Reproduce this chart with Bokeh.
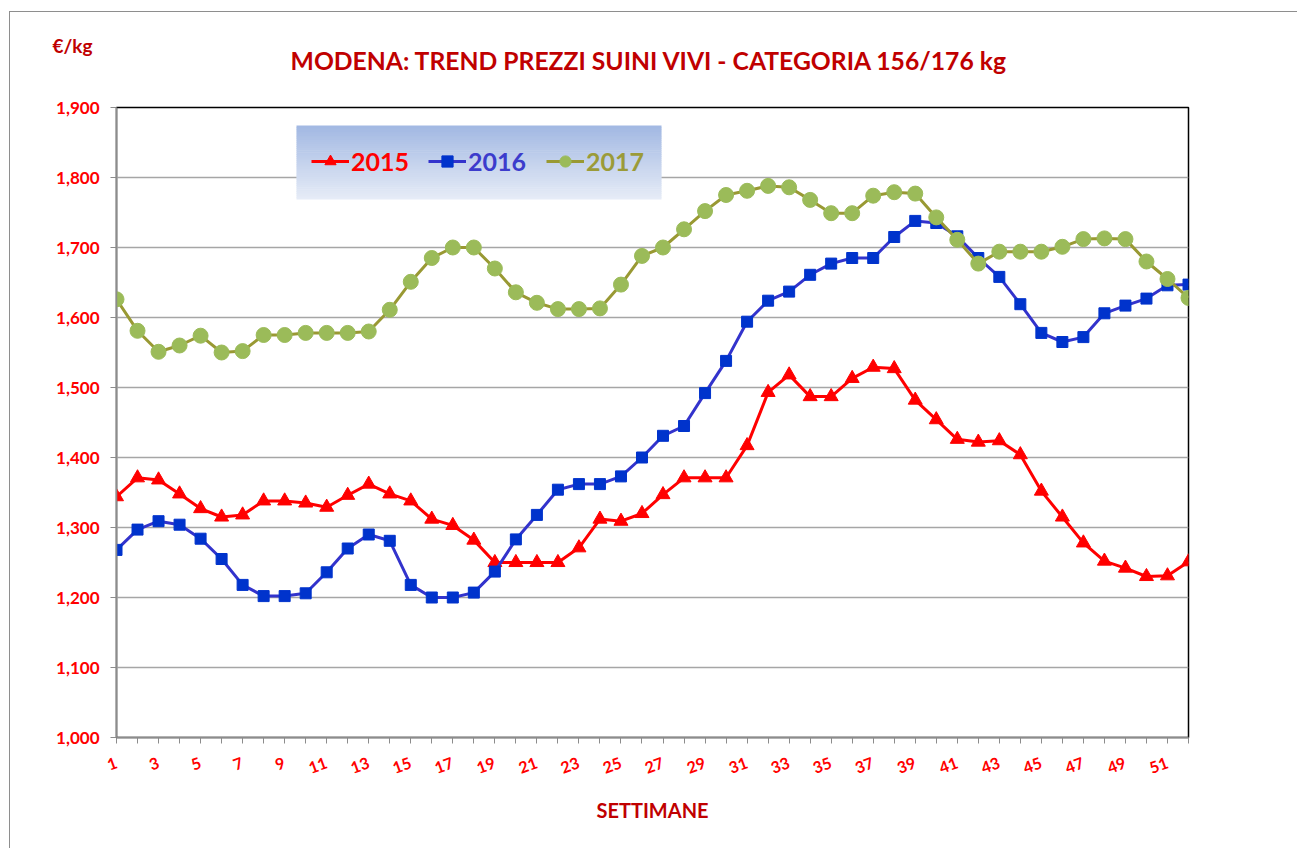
import numpy as np
from bokeh.plotting import figure
from bokeh.models import Range1d, FixedTicker, Legend, LegendItem, BoxAnnotation, Label
from bokeh.embed import file_html
from bokeh.resources import INLINE

# ---------------- data ----------------
weeks = list(range(1, 53))

prezzi_2015 = [1.344, 1.371, 1.368, 1.348, 1.327, 1.315, 1.318, 1.338, 1.338, 1.335,
               1.329, 1.346, 1.362, 1.348, 1.338, 1.312, 1.303, 1.282, 1.250, 1.250,
               1.250, 1.250, 1.271, 1.312, 1.309, 1.320, 1.347, 1.371, 1.371, 1.371,
               1.417, 1.493, 1.518, 1.487, 1.487, 1.513, 1.529, 1.527, 1.482, 1.454,
               1.426, 1.422, 1.424, 1.404, 1.352, 1.315, 1.278, 1.252, 1.242, 1.230,
               1.231, 1.251]

prezzi_2016 = [1.268, 1.297, 1.309, 1.304, 1.284, 1.255, 1.218, 1.202, 1.202, 1.206,
               1.236, 1.270, 1.290, 1.281, 1.218, 1.200, 1.200, 1.207, 1.237, 1.283,
               1.318, 1.354, 1.362, 1.362, 1.373, 1.400, 1.431, 1.445, 1.492, 1.538,
               1.594, 1.624, 1.637, 1.661, 1.677, 1.685, 1.685, 1.715, 1.738, 1.735,
               1.716, 1.685, 1.658, 1.619, 1.578, 1.565, 1.572, 1.606, 1.617, 1.627,
               1.646, 1.647]

prezzi_2017 = [1.626, 1.581, 1.551, 1.560, 1.574, 1.550, 1.552, 1.575, 1.575, 1.578,
               1.578, 1.578, 1.580, 1.611, 1.651, 1.685, 1.700, 1.700, 1.670, 1.636,
               1.621, 1.612, 1.612, 1.613, 1.647, 1.688, 1.700, 1.726, 1.752, 1.775,
               1.781, 1.788, 1.786, 1.768, 1.749, 1.749, 1.774, 1.779, 1.777, 1.743,
               1.711, 1.677, 1.694, 1.694, 1.694, 1.701, 1.712, 1.713, 1.712, 1.680,
               1.655, 1.628]

series_names = ["2015", "2016", "2017"]
y_ticks = [1.0, 1.1, 1.2, 1.3, 1.4, 1.5, 1.6, 1.7, 1.8, 1.9]
y_tick_labels = ["1,000", "1,100", "1,200", "1,300", "1,400",
                 "1,500", "1,600", "1,700", "1,800", "1,900"]
x_tick_labels = [str(w) if w % 2 == 1 else "" for w in weeks]

title_text = "MODENA:  TREND PREZZI SUINI VIVI - CATEGORIA 156/176 kg"
unit_text = "€/kg"
x_title = "SETTIMANE"

# ---------------- figure ----------------
FONT = "Lato"
DARK_RED = "#c00000"
RED = "#ff0000"

p = figure(width=1288, height=837, output_backend="svg", toolbar_location=None,
           x_range=Range1d(1, 52), y_range=Range1d(1.0, 1.9),
           min_border_left=106, min_border_right=110,
           min_border_top=95, min_border_bottom=112,
           background_fill_color="white", border_fill_color="white",
           styles={"margin-top": "12px", "margin-left": "10px",
                   "box-shadow": "-1px -1px 0px 0px #8e8e8e"})

p.title.text = title_text
p.title.align = "center"
p.title.text_font = FONT
p.title.text_font_size = "24.7px"
p.title.text_font_style = "bold"
p.title.text_color = DARK_RED
p.title.standoff = 20

p.outline_line_color = "black"
p.outline_line_width = 1.5

# grid
p.xgrid.visible = False
p.ygrid.grid_line_color = "#a6a6a6"
p.ygrid.grid_line_width = 1.5

# y axis
p.yaxis.ticker = FixedTicker(ticks=y_ticks)
p.yaxis.major_label_overrides = dict(zip(y_ticks, y_tick_labels))
p.yaxis.minor_tick_line_color = None
p.yaxis.major_tick_in = 0
p.yaxis.major_tick_out = 6
p.yaxis.major_tick_line_color = "#8c8c8c"
p.yaxis.axis_line_color = "#8c8c8c"
p.yaxis.axis_line_width = 1.5
p.yaxis.major_label_text_font = FONT
p.yaxis.major_label_text_font_style = "bold"
p.yaxis.major_label_text_font_size = "17px"
p.yaxis.major_label_text_color = RED
p.yaxis.major_label_standoff = 11

# x axis
p.xaxis.ticker = FixedTicker(ticks=weeks)
p.xaxis.major_label_overrides = dict(zip(weeks, x_tick_labels))
p.xaxis.minor_tick_line_color = None
p.xaxis.major_tick_in = 0
p.xaxis.major_tick_out = 6
p.xaxis.major_tick_line_color = "#8c8c8c"
p.xaxis.axis_line_color = "#8c8c8c"
p.xaxis.axis_line_width = 1.5
p.xaxis.major_label_text_font = FONT
p.xaxis.major_label_text_font_style = "bold"
p.xaxis.major_label_text_font_size = "16px"
p.xaxis.major_label_text_color = RED
p.xaxis.major_label_orientation = 0.35
p.xaxis.major_label_standoff = 19
p.xaxis.axis_label = x_title
p.xaxis.axis_label_text_font = FONT
p.xaxis.axis_label_text_font_style = "bold"
p.xaxis.axis_label_text_font_size = "20px"
p.xaxis.axis_label_text_color = DARK_RED
p.xaxis.axis_label_standoff = 16

# unit label above the y axis (lives in the top side panel)
p.add_layout(Label(x=-64, y=62, x_units="screen", y_units="screen", text=unit_text,
                   text_font=FONT, text_font_style="bold", text_font_size="19px",
                   text_color=DARK_RED, text_baseline="middle", text_align="left"), "above")

# ---------------- series ----------------
r15_l = p.line(weeks, prezzi_2015, line_color="#ff0000", line_width=3)
r15_m = p.scatter(weeks, prezzi_2015, marker="triangle", size=14,
                  fill_color="#ff0000", line_color="#ff0000")
r16_l = p.line(weeks, prezzi_2016, line_color="#3333cc", line_width=3)
r16_m = p.scatter(weeks, prezzi_2016, marker="square", size=11,
                  fill_color="#0033cc", line_color="#0033cc")
r17_l = p.line(weeks, prezzi_2017, line_color="#999933", line_width=3)
r17_m = p.scatter(weeks, prezzi_2017, marker="circle", size=15,
                  fill_color="#9bbb59", line_color="#9bbb59")

# ---------------- legend box with vertical gradient ----------------
def px_to_x(px):
    return 1 + (px - 116) / 21.0196

def py_to_y(py):
    return 1.0 + (737 - py) / 700.0

top_c = np.array([0xa3, 0xb9, 0xe3])
bot_c = np.array([0xe6, 0xec, 0xf7])
n_strips = 36
y_top, y_bot = 125.0, 199.0
for i in range(n_strips):
    t = i / (n_strips - 1)
    c = (top_c * (1 - t) + bot_c * t).astype(int)
    a = y_top + (y_bot - y_top) * i / n_strips
    b = y_top + (y_bot - y_top) * (i + 1) / n_strips + 0.6
    p.add_layout(BoxAnnotation(left=px_to_x(296), right=px_to_x(661),
                               top=py_to_y(a), bottom=py_to_y(min(b, y_bot)),
                               fill_color="#%02x%02x%02x" % tuple(c), fill_alpha=1.0,
                               line_color=None))

legend_specs = [
    ("2015", [r15_l, r15_m], "#ff0000", 195),
    ("2016", [r16_l, r16_m], "#3c3ccc", 312),
    ("2017", [r17_l, r17_m], "#9b9b38", 430),
]
for name, rs, col, xpos in legend_specs:
    lg = Legend(items=[LegendItem(label=name, renderers=rs)],
                location=(xpos, 561), orientation="horizontal",
                background_fill_alpha=0, border_line_color=None,
                padding=0, margin=0, spacing=0,
                glyph_width=38, glyph_height=28, label_height=28,
                label_standoff=2,
                label_text_font=FONT, label_text_font_style="bold",
                label_text_font_size="25px", label_text_color=col,
                label_text_baseline="middle")
    p.add_layout(lg)

open("out.html", "w").write(file_html(p, INLINE))
